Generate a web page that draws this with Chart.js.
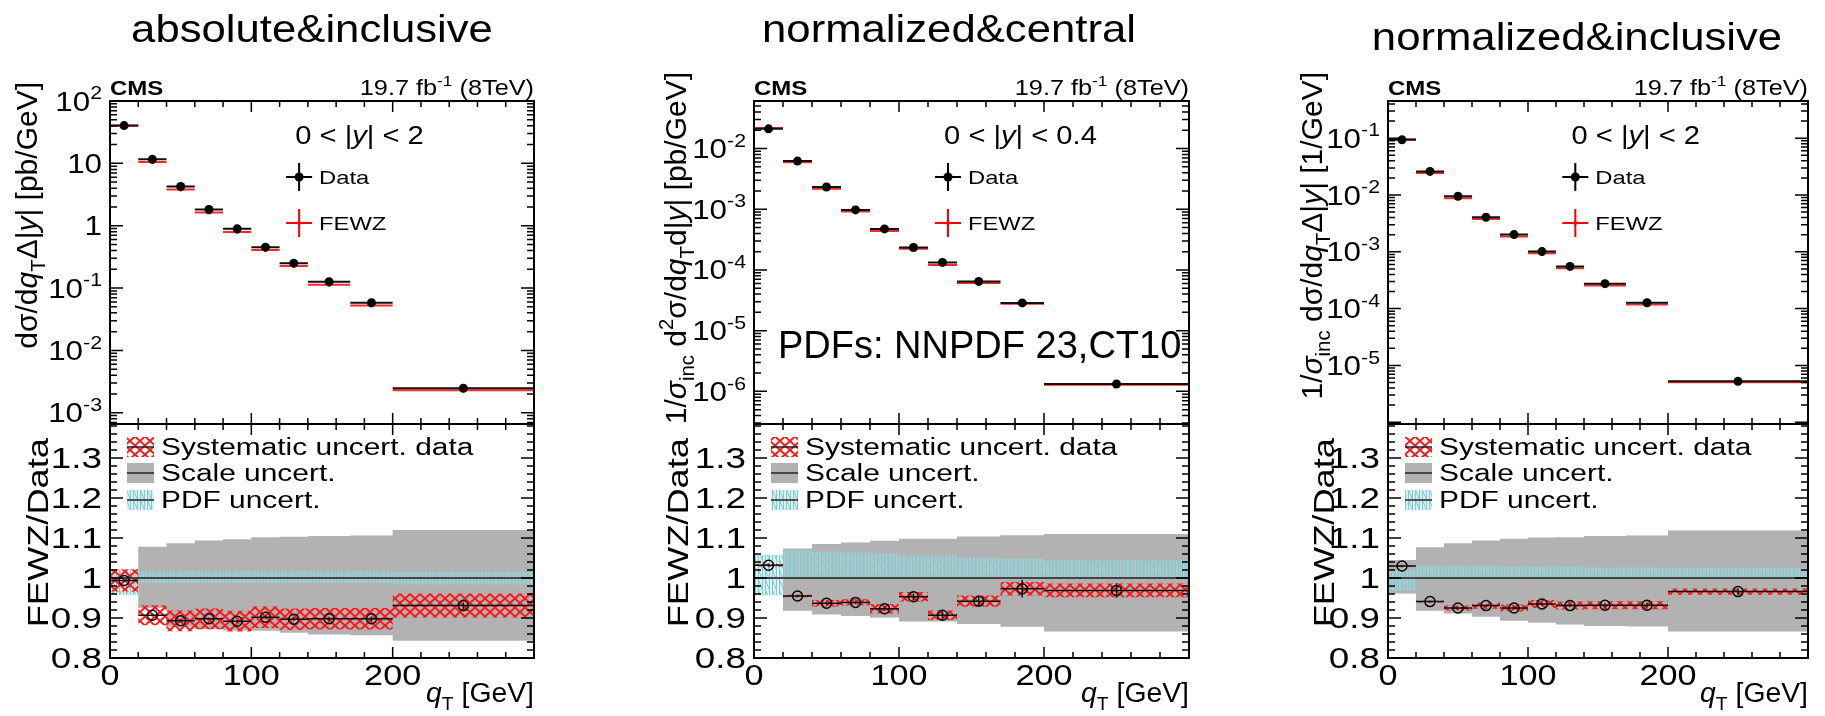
<!DOCTYPE html>
<html>
<head>
<meta charset="utf-8">
<script src="https://cdn.jsdelivr.net/npm/chart.js@4.4.1/dist/chart.umd.min.js"></script>
<style>
html, body { margin: 0; padding: 0; background: #fff; }
#page { position: relative; width: 1825px; height: 716px; overflow: hidden; }
#page canvas { position: absolute; top: 0; }
</style>
</head>
<body>
<div id="page"></div>
<script>
// q_T bins [GeV]
const edges = [0, 20, 40, 60, 80, 100, 120, 140, 170, 200, 300];
const centers = [10, 30, 50, 70, 90, 110, 130, 155, 185, 250];
const xTicks = [0, 100, 200];
const ratioTicks = [0.8, 0.9, 1, 1.1, 1.2, 1.3];

// absolute & inclusive, 0 < |y| < 2
const absInclData = [40.3, 11.6, 4.25, 1.82, 0.89, 0.453, 0.251, 0.126, 0.0582, 0.00247];
const absInclFewz = [40.1, 10.5, 3.80, 1.63, 0.794, 0.409, 0.225, 0.113, 0.0523, 0.00230];
const absInclRatio = [0.994, 0.907, 0.893, 0.898, 0.892, 0.902, 0.897, 0.898, 0.898, 0.931];
const absInclRatioErr = [0.003, 0.003, 0.003, 0.003, 0.003, 0.004, 0.004, 0.005, 0.006, 0.008];
const absInclSys = [0.028, 0.025, 0.026, 0.026, 0.026, 0.027, 0.027, 0.027, 0.027, 0.030];
const absInclScaleHi = [1, 1.078, 1.087, 1.094, 1.097, 1.102, 1.103, 1.105, 1.106, 1.12];
const absInclScaleLo = [1, 0.925, 0.878, 0.872, 0.869, 0.868, 0.863, 0.859, 0.857, 0.843];
const absInclPdfHi = [1.02, 1.017, 1.017, 1.017, 1.017, 1.017, 1.017, 1.017, 1.017, 1.015];
const absInclPdfLo = [0.958, 0.987, 0.987, 0.987, 0.987, 0.987, 0.987, 0.987, 0.987, 0.984];
const absInclYTicks = [100, 10, 1, 0.1, 0.01, 0.001];
const absInclYRange = [6.6e-4, 100];

// normalized & central, 0 < |y| < 0.4
const normCentData = [0.0211, 0.0062, 0.00232, 0.000973, 0.000474, 0.000234, 0.000133, 6.47e-5, 2.86e-5, 1.32e-6];
const normCentFewz = [0.0218, 0.00592, 0.00217, 0.000914, 0.000437, 0.000223, 0.000121, 6.09e-5, 2.78e-5, 1.28e-6];
const normCentRatio = [1.032, 0.955, 0.937, 0.939, 0.923, 0.953, 0.907, 0.942, 0.973, 0.969];
const normCentRatioErr = [0.004, 0.003, 0.004, 0.004, 0.006, 0.008, 0.009, 0.012, 0.022, 0.018];
const normCentSys = [0.003, 0.003, 0.008, 0.008, 0.012, 0.012, 0.012, 0.014, 0.017, 0.017];
const normCentScaleHi = [1, 1.074, 1.085, 1.089, 1.093, 1.098, 1.098, 1.104, 1.107, 1.11];
const normCentScaleLo = [1, 0.918, 0.909, 0.905, 0.901, 0.891, 0.891, 0.885, 0.878, 0.866];
const normCentPdfHi = [1.058, 1.07, 1.066, 1.064, 1.062, 1.057, 1.056, 1.051, 1.048, 1.044];
const normCentPdfLo = [0.957, 0.998, 0.998, 0.998, 0.998, 0.998, 0.998, 0.998, 0.998, 0.998];
const normCentYTicks = [1e-2, 1e-3, 1e-4, 1e-5, 1e-6];
const normCentYRange = [2.9e-7, 0.0606];

// normalized & inclusive, 0 < |y| < 2
const normInclData = [0.0935, 0.026, 0.0095, 0.00406, 0.00201, 0.00101, 0.000553, 0.000275, 0.000127, 5.24e-6];
const normInclFewz = [0.0963, 0.0245, 0.00879, 0.00378, 0.00186, 0.000944, 0.000515, 0.000256, 0.000118, 5.06e-6];
const normInclRatio = [1.030, 0.941, 0.925, 0.931, 0.925, 0.935, 0.931, 0.932, 0.932, 0.966];
const normInclRatioErr = [0.003, 0.003, 0.003, 0.003, 0.003, 0.004, 0.004, 0.005, 0.006, 0.008];
const normInclSys = [0.002, 0.002, 0.006, 0.008, 0.009, 0.010, 0.010, 0.010, 0.010, 0.008];
const normInclScaleHi = [1.045, 1.077, 1.087, 1.094, 1.098, 1.101, 1.102, 1.105, 1.106, 1.119];
const normInclScaleLo = [0.961, 0.918, 0.911, 0.903, 0.893, 0.888, 0.884, 0.880, 0.879, 0.866];
const normInclPdfHi = [1.02, 1.03, 1.03, 1.03, 1.029, 1.029, 1.028, 1.027, 1.027, 1.025];
const normInclPdfLo = [0.968, 1.0, 1.0, 1.0, 1.0, 1.0, 1.0, 1.0, 1.0, 1.0];
const normInclYTicks = [0.1, 0.01, 1e-3, 1e-4, 1e-5];
const normInclYRange = [9.3e-7, 0.452];

const FONT = '"Liberation Sans", Arial, Helvetica, sans-serif';
const TOP = 101, MID = 424, BOT = 658, H = 716;

const panels = [
  { colX: 0, colW: 590, L: 110, R: 534, title: 'absolute&inclusive', titleX: 312, titleY: 42,
    region: '2', yTitleOff: 73, yTitleTop: 82, ratioTitleOff: 62,
    yTitle: [['dσ/d'], ['q', 'i'], ['T', '_'], ['Δ|'], ['y', 'i'], ['| [pb/GeV]']],
    data: absInclData, fewz: absInclFewz, ratio: absInclRatio, ratioErr: absInclRatioErr, sys: absInclSys,
    scaleHi: absInclScaleHi, scaleLo: absInclScaleLo, pdfHi: absInclPdfHi, pdfLo: absInclPdfLo,
    yTicks: absInclYTicks, yRange: absInclYRange },
  { colX: 590, colW: 650, L: 754, R: 1189, title: 'normalized&central', titleX: 949, titleY: 42,
    region: '0.4', pdfNote: true, yTitleOff: 68, yTitleTop: 72, ratioTitleOff: 66,
    yTitle: [['1/'], ['σ', 'i'], ['inc', '_'], [' d'], ['2', '^'], ['σ/d'], ['q', 'i'], ['T', '_'], ['d|'], ['y', 'i'], ['| [pb/GeV]']],
    data: normCentData, fewz: normCentFewz, ratio: normCentRatio, ratioErr: normCentRatioErr, sys: normCentSys,
    scaleHi: normCentScaleHi, scaleLo: normCentScaleLo, pdfHi: normCentPdfHi, pdfLo: normCentPdfLo,
    yTicks: normCentYTicks, yRange: normCentYRange },
  { colX: 1240, colW: 585, L: 1388, R: 1808, title: 'normalized&inclusive', titleX: 1577, titleY: 50,
    region: '2', yTitleOff: 66, yTitleTop: 72, ratioTitleOff: 54,
    yTitle: [['1/'], ['σ', 'i'], ['inc', '_'], [' dσ/d'], ['q', 'i'], ['T', '_'], ['Δ|'], ['y', 'i'], ['| [1/GeV]']],
    data: normInclData, fewz: normInclFewz, ratio: normInclRatio, ratioErr: normInclRatioErr, sys: normInclSys,
    scaleHi: normInclScaleHi, scaleLo: normInclScaleLo, pdfHi: normInclPdfHi, pdfLo: normInclPdfLo,
    yTicks: normInclYTicks, yRange: normInclYRange }
];

// ---- helpers -------------------------------------------------------------
function hbarPts(vals) {
  const pts = [];
  vals.forEach((v, i) => pts.push({ x: edges[i], y: v }, { x: edges[i + 1], y: v }, { x: edges[i + 1], y: null }));
  return pts;
}
function vbarPts(vals, errs) {
  const pts = [];
  vals.forEach((v, i) => pts.push({ x: centers[i], y: v - errs[i] }, { x: centers[i], y: v + errs[i] }, { x: centers[i], y: null }));
  return pts;
}
function stepPts(vals) {
  const pts = [];
  vals.forEach((v, i) => pts.push({ x: edges[i], y: v }, { x: edges[i + 1], y: v }));
  return pts;
}
function centerPts(vals) {
  return vals.map((v, i) => ({ x: centers[i], y: v }));
}

function makePattern(kind) {
  const c = document.createElement('canvas');
  const g = c.getContext('2d');
  if (kind === 'red') {
    c.width = 10; c.height = 9;
    g.strokeStyle = 'rgb(255,20,20)'; g.lineWidth = 1.9;
    g.beginPath();
    g.moveTo(0, 0); g.lineTo(10, 9);
    g.moveTo(10, 0); g.lineTo(0, 9);
    g.stroke();
  } else {
    c.width = 7; c.height = 10;
    g.fillStyle = 'rgba(175,222,226,0.45)'; g.fillRect(0, 0, 7, 10);
    g.strokeStyle = 'rgb(130,202,208)'; g.lineWidth = 1;
    g.beginPath();
    g.moveTo(0.5, 0); g.lineTo(0.5, 10);
    g.moveTo(0.5, 0); g.lineTo(4.5, 10);
    g.moveTo(4.5, 0); g.lineTo(4.5, 10);
    g.stroke();
  }
  return g.createPattern(c, 'repeat');
}
const redHatch = makePattern('red');
const cyanHatch = makePattern('cyan');
const GRAY = 'rgb(178,178,178)';

// text with italic / bold / sub / superscript pieces
function drawRich(ctx, segs, x, y, o) {
  const size = o.size, sx = o.sx || 1;
  ctx.save();
  ctx.translate(x, y);
  if (o.rot) ctx.rotate(-Math.PI / 2);
  ctx.scale(sx, 1);
  let w = 0;
  const parts = segs.map(s => {
    const f = s[1] || '';
    const small = f.includes('_') || f.includes('^');
    const sz = small ? size * 0.68 : size;
    const font = (f.includes('i') ? 'italic ' : '') + (f.includes('b') ? 'bold ' : '') + sz.toFixed(1) + 'px ' + FONT;
    ctx.font = font;
    const p = { t: s[0], font, x: w, dy: f.includes('_') ? size * 0.28 : f.includes('^') ? -size * 0.42 : 0 };
    w += ctx.measureText(s[0]).width;
    return p;
  });
  const x0 = o.align === 'right' ? -w : o.align === 'center' ? -w / 2 : 0;
  ctx.fillStyle = o.color || '#000';
  ctx.textAlign = 'left';
  ctx.textBaseline = 'alphabetic';
  parts.forEach(p => { ctx.font = p.font; ctx.fillText(p.t, x0 + p.x, p.dy); });
  ctx.restore();
}

function drawAxes(chart, kind) {
  const ctx = chart.ctx, a = chart.chartArea, xs = chart.scales.x, ys = chart.scales.y;
  ctx.save();
  ctx.strokeStyle = '#000';
  ctx.lineWidth = 1.5;
  ctx.beginPath();
  for (let v = 0; v <= 300; v += 20) {
    const px = xs.getPixelForValue(v), len = v % 100 === 0 ? 11 : 6;
    ctx.moveTo(px, a.bottom); ctx.lineTo(px, a.bottom - len);
    ctx.moveTo(px, a.top); ctx.lineTo(px, a.top + len);
  }
  if (kind === 'log') {
    const e0 = Math.floor(Math.log10(ys.min)), e1 = Math.ceil(Math.log10(ys.max));
    for (let e = e0; e <= e1; e++) {
      for (let k = 1; k <= 9; k++) {
        const v = k * Math.pow(10, e);
        if (v < ys.min || v > ys.max) continue;
        const py = ys.getPixelForValue(v), len = k === 1 ? 13 : 7;
        ctx.moveTo(a.left, py); ctx.lineTo(a.left + len, py);
        ctx.moveTo(a.right, py); ctx.lineTo(a.right - len, py);
      }
    }
  } else {
    for (let i = 40; i <= 69; i++) {
      const py = ys.getPixelForValue(i / 50), len = i % 5 === 0 ? 13 : 7;
      ctx.moveTo(a.left, py); ctx.lineTo(a.left + len, py);
      ctx.moveTo(a.right, py); ctx.lineTo(a.right - len, py);
    }
  }
  ctx.stroke();
  ctx.lineWidth = 2;
  ctx.strokeRect(a.left, a.top, a.right - a.left, a.bottom - a.top);
  ctx.restore();
}

function legendCross(ctx, x, y, color, r) {
  ctx.save();
  ctx.strokeStyle = color; ctx.fillStyle = color; ctx.lineWidth = 2;
  ctx.beginPath();
  ctx.moveTo(x - 13, y); ctx.lineTo(x + 13, y);
  ctx.moveTo(x, y - 14); ctx.lineTo(x, y + 14);
  ctx.stroke();
  ctx.beginPath(); ctx.arc(x, y, r, 0, 2 * Math.PI); ctx.fill();
  ctx.restore();
}

function legendBox(ctx, x, y, fill) {
  ctx.save();
  ctx.fillStyle = fill;
  ctx.fillRect(x, y - 10, 27, 20);
  ctx.strokeStyle = '#222'; ctx.lineWidth = 1.5;
  ctx.beginPath(); ctx.moveTo(x, y); ctx.lineTo(x + 27, y); ctx.stroke();
  ctx.restore();
}

const baseOptions = (pad, yScale) => ({
  responsive: false,
  animation: false,
  devicePixelRatio: 1,
  events: [],
  layout: { padding: pad },
  plugins: { legend: { display: false }, tooltip: { enabled: false }, title: { display: false } },
  scales: {
    x: { type: 'linear', min: 0, max: 300, display: false },
    y: yScale
  },
  elements: { line: { tension: 0 } }
});

function addCanvas(p) {
  const c = document.createElement('canvas');
  c.width = p.colW; c.height = H;
  c.style.left = p.colX + 'px';
  document.getElementById('page').appendChild(c);
  return c;
}

// ---- build the six plots -------------------------------------------------
panels.forEach(p => {
  const W = p.R - p.L;

  // upper: spectra
  new Chart(addCanvas(p), {
    type: 'line',
    data: {
      datasets: [
        { data: hbarPts(p.fewz), borderColor: 'rgb(255,40,40)', borderWidth: 2, pointRadius: 0, order: 3 },
        { data: centerPts(p.fewz), showLine: false, pointRadius: 2, pointBackgroundColor: 'rgb(255,0,0)', pointBorderWidth: 0, order: 3 },
        { data: hbarPts(p.data), borderColor: '#111', borderWidth: 2, pointRadius: 0, order: 1 },
        { data: centerPts(p.data), showLine: false, pointRadius: 4.5, pointBackgroundColor: '#000', pointBorderWidth: 0, order: 0 }
      ]
    },
    options: baseOptions({ left: p.L - p.colX, right: p.colX + p.colW - p.R, top: TOP, bottom: H - MID },
      { type: 'logarithmic', min: p.yRange[0], max: p.yRange[1], display: false }),
    plugins: [{
      id: 'rootUpper',
      afterDatasetsDraw(chart) { drawAxes(chart, 'log'); },
      afterDraw(chart) {
        const ctx = chart.ctx, a = chart.chartArea, ys = chart.scales.y;
        p.yTicks.forEach(v => {
          const e = Math.round(Math.log10(v));
          const segs = e === 0 ? [['1']] : e === 1 ? [['10']] : [['10'], [String(e), '^']];
          drawRich(ctx, segs, a.left - 8, ys.getPixelForValue(v) + 9.5, { size: 27, align: 'right', sx: 1.16 });
        });
        drawRich(ctx, [[p.title]], p.titleX - p.colX, p.titleY, { size: 39, align: 'center', sx: 1.12 });
        drawRich(ctx, [['CMS', 'b']], a.left, a.top - 6, { size: 20, sx: 1.2 });
        drawRich(ctx, [['19.7 fb'], ['-1', '^'], [' (8TeV)']], a.right, a.top - 6, { size: 22, align: 'right', sx: 1.15 });
        drawRich(ctx, [['0 < |'], ['y', 'i'], ['| < ' + p.region]], a.left + 0.437 * W, 144, { size: 26, sx: 1.12 });
        const mx = a.left + 0.446 * W;
        legendCross(ctx, mx, 177, '#000', 4.5);
        drawRich(ctx, [['Data']], mx + 20, 184, { size: 19, sx: 1.25 });
        legendCross(ctx, mx, 223, 'rgb(255,0,0)', 2);
        drawRich(ctx, [['FEWZ']], mx + 20, 230, { size: 19, sx: 1.25 });
        drawRich(ctx, p.yTitle, a.left - p.yTitleOff, p.yTitleTop, { size: 30, align: 'right', rot: true });
        if (p.pdfNote) drawRich(ctx, [['PDFs: NNPDF 23,CT10']], a.left + 24, 358, { size: 38 });
      }
    }]
  });

  // lower: FEWZ / Data
  const sysHi = p.ratio.map((r, i) => r + p.sys[i]);
  const sysLo = p.ratio.map((r, i) => r - p.sys[i]);
  new Chart(addCanvas(p), {
    type: 'line',
    data: {
      datasets: [
        { data: stepPts(p.scaleHi), fill: '+1', backgroundColor: GRAY, borderColor: 'rgba(0,0,0,0)', pointRadius: 0, order: 10 },
        { data: stepPts(p.scaleLo), fill: false, borderColor: 'rgba(0,0,0,0)', pointRadius: 0, order: 10 },
        { data: stepPts(p.pdfHi), fill: '+1', backgroundColor: cyanHatch, borderColor: 'rgba(0,0,0,0)', pointRadius: 0, order: 9 },
        { data: stepPts(p.pdfLo), fill: false, borderColor: 'rgba(0,0,0,0)', pointRadius: 0, order: 9 },
        { data: stepPts(sysHi), fill: '+1', backgroundColor: redHatch, borderColor: 'rgba(0,0,0,0)', pointRadius: 0, order: 8 },
        { data: stepPts(sysLo), fill: false, borderColor: 'rgba(0,0,0,0)', pointRadius: 0, order: 8 },
        { data: [{ x: 0, y: 1 }, { x: 300, y: 1 }], borderColor: '#444', borderWidth: 2, pointRadius: 0, order: 6 },
        { data: hbarPts(p.ratio), borderColor: '#111', borderWidth: 1.5, pointRadius: 0, order: 4 },
        { data: vbarPts(p.ratio, p.ratioErr), borderColor: '#111', borderWidth: 1.5, pointRadius: 0, order: 4 },
        { data: centerPts(p.ratio), showLine: false, pointRadius: 5, pointBackgroundColor: 'rgba(0,0,0,0)',
          pointBorderColor: '#000', pointBorderWidth: 1.5, order: 2 }
      ]
    },
    options: baseOptions({ left: p.L - p.colX, right: p.colX + p.colW - p.R, top: MID, bottom: H - BOT },
      { type: 'linear', min: 0.8, max: 1.385, display: false }),
    plugins: [{
      id: 'rootLower',
      afterDatasetsDraw(chart) { drawAxes(chart, 'lin'); },
      afterDraw(chart) {
        const ctx = chart.ctx, a = chart.chartArea, xs = chart.scales.x, ys = chart.scales.y;
        ratioTicks.forEach(v => drawRich(ctx, [[String(v)]], a.left - 8, ys.getPixelForValue(v) + 10, { size: 29, align: 'right', sx: 1.27 }));
        xTicks.forEach(v => drawRich(ctx, [[String(v)]], xs.getPixelForValue(v), 685, { size: 29, align: 'center', sx: 1.18 }));
        drawRich(ctx, [['q', 'i'], ['T', '_'], [' [GeV]']], a.right, 702, { size: 27, align: 'right', sx: 1.05 });
        drawRich(ctx, [['FEWZ/Data']], a.left - p.ratioTitleOff, 438, { size: 29, align: 'right', rot: true, sx: 1.25 });
        const bx = a.left + 17, tx = a.left + 51;
        legendBox(ctx, bx, 447, redHatch);
        drawRich(ctx, [['Systematic uncert. data']], tx, 455, { size: 23, sx: 1.3 });
        legendBox(ctx, bx, 473, GRAY);
        drawRich(ctx, [['Scale uncert.']], tx, 481, { size: 23, sx: 1.3 });
        legendBox(ctx, bx, 500, cyanHatch);
        drawRich(ctx, [['PDF uncert.']], tx, 508, { size: 23, sx: 1.3 });
      }
    }]
  });
});
</script>
</body>
</html>
